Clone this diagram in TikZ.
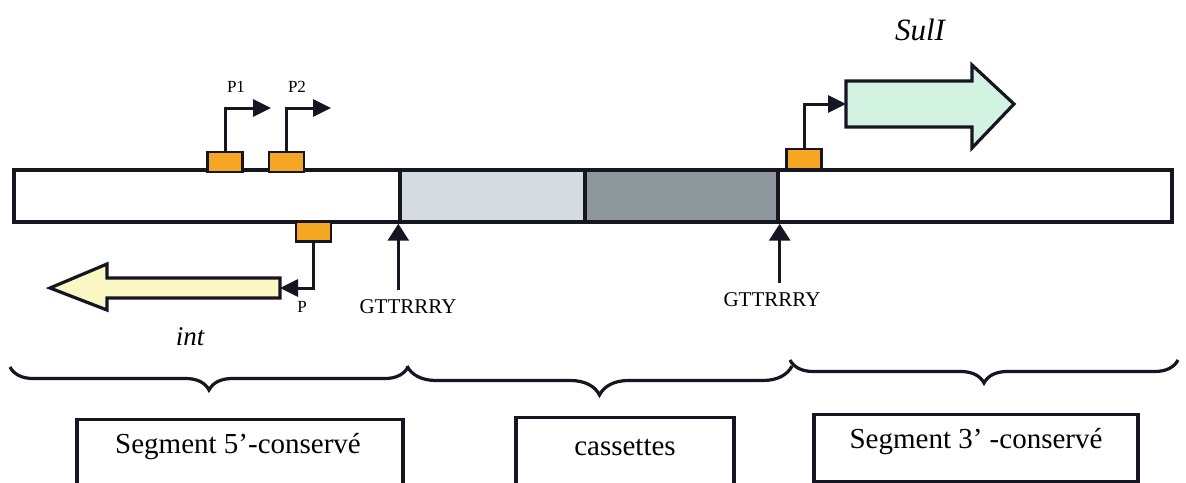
\documentclass[tikz,border=0pt]{standalone}
\usepackage{fontspec}
\setmainfont{Liberation Serif}
\usetikzlibrary{arrows.meta,decorations.pathreplacing}
\definecolor{promo}{HTML}{F5A623}
\definecolor{casA}{HTML}{D5DCDF}
\definecolor{casB}{HTML}{8C989B}
\definecolor{intcol}{HTML}{FBF8C4}
\definecolor{sulcol}{HTML}{D2F3E2}
\definecolor{edge}{HTML}{161622}
\tikzset{
  barpart/.style={draw=edge, line width=3.4pt, inner sep=0pt, minimum height=52pt},
  promobox/.style={draw=edge, fill=promo, line width=2.8pt, inner sep=0pt, minimum width=35pt, minimum height=20pt},
  bentarrow/.style={draw=edge, line width=3pt, -{Triangle[length=18pt,width=17pt]}},
  sitearrow/.style={draw=edge, line width=3pt, -{Triangle[length=17pt,width=21pt]}},
  genearrow/.style={draw=edge, line width=3.2pt, line join=miter},
  small/.style={font=\fontsize{17}{19}\selectfont, inner sep=0pt},
  site/.style={font=\fontsize{21}{23}\selectfont, inner sep=0pt},
  genelabel/.style={font=\fontsize{#1}{#1}\selectfont\itshape, inner sep=0pt},
  segbox/.style={draw=edge, line width=3.2pt, inner sep=0pt, anchor=north},
  segtext/.style={font=\fontsize{29}{31}\selectfont, inner sep=0pt},
  bracestyle/.style={draw=edge, line width=3.2pt, decorate, decoration={brace, mirror, amplitude=#1}}
}
\begin{document}
\begin{tikzpicture}[x=1pt, y=-1pt]
\path[use as bounding box] (0,0) rectangle (1186,482);
\clip (0,0) rectangle (1186,482);
\fill[white] (0,0) rectangle (1186,482);

% main bar
\node[barpart, fill=white, minimum width=1158pt] (bar) at (593,196) {};
\node[barpart, fill=casA, minimum width=185pt] (cas1) at (492.5,196) {};
\node[barpart, fill=casB, minimum width=193pt] (cas2) at (681.5,196) {};

% promoters
\node[promobox] (pr1) at (225,162) {};
\node[promobox] (pr2) at (286.5,162) {};
\node[promobox] (prP) at (313.5,231.5) {};
\node[promobox] (prS) at (804,159) {};

% genes
\path[genearrow, fill=intcol] (280,278) -- (107,278) -- (107,264) -- (50,288) -- (107,310) -- (107,298) -- (280,298) -- cycle;
\coordinate (intend) at (280,288);
\path[genearrow, fill=sulcol] (846,81) -- (972,81) -- (972,65) -- (1014,104) -- (972,148) -- (972,127) -- (846,127) -- cycle;
\coordinate (sulstart) at (846,104);

% promoter arrows
\coordinate (a1) at (271,108);
\coordinate (a2) at (331,108);
\draw[bentarrow] (pr1.north) |- (a1);
\draw[bentarrow] (pr2.north) |- (a2);
\draw[bentarrow] (prP.south) |- (intend);
\draw[bentarrow] (prS.north) |- (sulstart);

\node[small] (lp1) at (236,87) {P1};
\node[small] (lp2) at (297,87) {P2};
\node[small] (lp) at (302,307) {P};

% sites
\coordinate (s1) at (cas1.south west |- 0,290);
\coordinate (s2) at (cas2.south east |- 0,283);
\draw[sitearrow] (s1) -- (cas1.south west);
\draw[sitearrow] (s2) -- (cas2.south east);
\node[site] (g1) at (408,307) {GTTRRRY};
\node[site] (g2) at (772,300) {GTTRRRY};

\node[genelabel=31] (sul) at (920,30) {SulI};
\node[genelabel=27] (int) at (190,337) {int};

% braces
\coordinate (b1l) at (10,367);
\coordinate (b1r) at (408,367);
\coordinate (b2l) at (407,366);
\coordinate (b2r) at (792,366);
\coordinate (b3l) at (790,360);
\coordinate (b3r) at (1178,360);
\draw[bracestyle=23pt] (b1l) -- (b1r);
\draw[bracestyle=29pt] (b2l) -- (b2r);
\draw[bracestyle=23pt] (b3l) -- (b3r);

% segment boxes
\node[segbox, minimum width=326pt, minimum height=120pt] (box1) at (240,418) {};
\node[segbox, minimum width=218pt, minimum height=120pt] (box2) at (625,416) {};
\node[segbox, minimum width=324pt, minimum height=67pt] (box3) at (976,413) {};
\node[segtext] (t1) at (238,447) {Segment 5’-conservé};
\node[segtext] (t2) at (625,447) {cassettes};
\node[segtext] (t3) at (976,442) {Segment 3’ -conservé};
\end{tikzpicture}
\end{document}
